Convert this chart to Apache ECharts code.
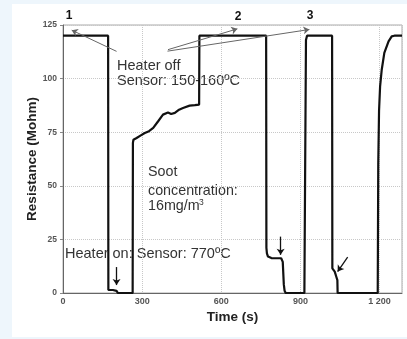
<!DOCTYPE html>
<html>
<head>
<meta charset="utf-8">
<script src="https://cdn.jsdelivr.net/npm/echarts@6/dist/echarts.min.js"></script>
<style>
  html, body { margin: 0; padding: 0; background: #eef6fc; }
  #panel { position: absolute; left: 12px; top: 4px; width: 395px; height: 333px; background: #fff; }
  #chart { position: absolute; left: 0; top: 0; width: 407px; height: 339px; }
</style>
</head>
<body>
<div id="panel"></div>
<div id="chart"></div>
<script>
// time (s) and sensor resistance (Mohm)
const timeS = [
  0, 171, 172, 189, 203, 208, 264, 265, 267, 279, 295, 310, 326, 342, 360, 379,
  398, 410, 424, 440, 455, 480, 500, 516, 517, 770, 771, 773, 777, 790, 827,
  833, 837, 840, 844, 915, 918, 921, 925, 1020, 1021, 1030, 1036, 1040, 1041,
  1193, 1195, 1198, 1202, 1208, 1218, 1234, 1246, 1256, 1285
];
const resistance = [
  120, 120, 1.4, 1.4, 1, 0, 0, 70, 71.5, 72.3, 73.5, 74.6, 75.5, 77, 80, 83.2,
  84.2, 83.5, 84, 85.5, 86.3, 87.4, 87.6, 87.9, 120, 120, 21, 18.5, 17, 16.3, 16.2,
  14.5, 4, 1, 0, 0, 60, 118, 120, 120, 11.5, 10, 7.6, 6, 0,
  0, 60, 85, 96.4, 104, 112, 117.4, 119.7, 120, 120
];
const xTicks = ["0", "300", "600", "900", "1 200"];
const yTicks = ["0", "25", "50", "75", "100", "125"];

// annotation arrows: [from, to] in data coords
const offArrows = [
  [[203, 112.7], [33, 122.6]],
  [[398, 113.5], [661, 123.2]],
  [[396, 112.8], [934, 122.9]]
];
const downArrows = [
  [[203, 12.1], [203, 3.7]],
  [[825, 26.3], [825, 17.8]],
  [[1079, 16.7], [1041, 10]]
];

const chart = echarts.init(document.getElementById("chart"));
const font = "'Liberation Sans', Arial, sans-serif";
const txt = (text, x, y, size, extra) => ({
  type: "text", x: x, y: y, silent: true,
  style: Object.assign({ text: text, fontFamily: font, fontSize: size, fill: "#333",
    verticalAlign: "middle", align: "left" }, extra || {})
});

const tickIdx = (v, step) => Math.round(v / step);

chart.setOption({
  animation: false,
  grid: { left: 63, right: 5, top: 25, bottom: 46, show: true, borderColor: "#aaa", borderWidth: 1 },
  xAxis: {
    type: "value", min: 0, max: 1285, interval: 300,
    name: "Time (s)", nameLocation: "middle", nameGap: 17, nameMoveOverlap: false,
    nameTextStyle: { fontFamily: font, fontWeight: "bold", fontSize: 13.5, color: "#222" },
    axisLine: { lineStyle: { color: "#666" } },
    axisTick: { show: false },
    axisLabel: {
      showMaxLabel: false, margin: 4,
      fontFamily: font, fontSize: 9, fontWeight: "bold", color: "#555",
      formatter: (v) => xTicks[tickIdx(v, 300)] || ""
    },
    splitLine: { show: true, lineStyle: { color: "#c8c8c8", type: "dotted" } }
  },
  yAxis: {
    type: "value", min: 0, max: 125, interval: 25,
    name: "Resistance (Mohm)", nameLocation: "middle", nameGap: 24, nameMoveOverlap: false,
    nameTextStyle: { fontFamily: font, fontWeight: "bold", fontSize: 13.5, color: "#222" },
    axisLine: { show: true, lineStyle: { color: "#666" } },
    axisTick: { show: true, length: 3, lineStyle: { color: "#888" } },
    axisLabel: {
      margin: 6, fontFamily: font, fontSize: 8.5, fontWeight: "bold", color: "#555",
      formatter: (v) => yTicks[tickIdx(v, 25)] || ""
    },
    splitLine: { show: true, lineStyle: { color: "#c8c8c8", type: "dotted" } }
  },
  series: [
    {
      type: "line",
      data: timeS.map((t, i) => [t, resistance[i]]),
      symbol: "none",
      lineStyle: { color: "#111", width: 2.2 },
      markLine: {
        silent: true,
        symbol: ["none", "arrow"],
        symbolSize: 6,
        label: { show: false },
        data: offArrows.map((a) => [
          { coord: a[0], lineStyle: { color: "#666", width: 1, type: "solid" } },
          { coord: a[1] }
        ]).concat(downArrows.map((a) => [
          { coord: a[0], lineStyle: { color: "#111", width: 1.3, type: "solid" } },
          { coord: a[1] }
        ]))
      }
    }
  ],
  graphic: [
    txt("1", 69, 16, 12, { fontWeight: "bold", align: "center", fill: "#111" }),
    txt("2", 238, 17, 12, { fontWeight: "bold", align: "center", fill: "#111" }),
    txt("3", 310, 16, 12, { fontWeight: "bold", align: "center", fill: "#111" }),
    txt("Heater off", 117, 65.5, 14.5),
    txt("Sensor: 150-160\u00baC", 117, 81, 14.5),
    txt("Soot", 148, 172.5, 14.3),
    txt("concentration:", 148, 191, 14.3),
    txt("16mg/m", 148, 206.5, 14.3),
    txt("3", 199, 203, 8.5),
    txt("Heater on: Sensor: 770\u00baC", 65, 254.3, 14.5)
  ]
});
</script>
</body>
</html>
